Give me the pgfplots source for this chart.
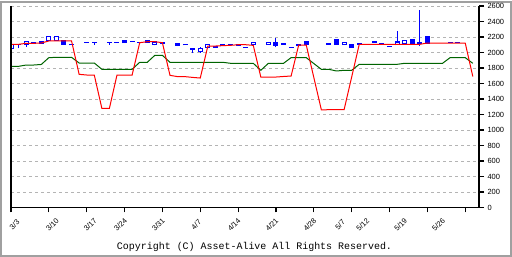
\documentclass[border=0pt]{standalone}
\usepackage{pgfplots}
\pgfplotsset{compat=1.18}
\usepackage{pgfplotstable}
\usepackage{fontspec}
\setmainfont{Liberation Sans}
\setmonofont{Liberation Mono}
\definecolor{cblue}{RGB}{0,0,255}
\definecolor{cred}{RGB}{255,0,0}
\definecolor{cgreen}{RGB}{0,100,0}
\definecolor{cgrid}{RGB}{180,180,180}
\definecolor{cframe}{RGB}{160,160,160}

\pgfplotstableread{
x bl bh wl wh
0 2053 2100 2053 2100
2 2105 2144 2075 2144
5 2157 2200 2157 2200
6 2157 2200 2157 2200
19 2105 2135 2092 2135
25 2010 2049 1997 2070
26 2066 2100 2062 2109
32 2100 2131 2100 2131
34 2100 2131 2100 2131
44 2100 2131 2100 2131
51 2100 2135 2100 2277
52 2114 2157 2114 2157
}\hollow

\pgfplotstableread{
x bl bh wl wh
4 2118 2144 2118 2144
7 2105 2157 2105 2157
15 2126 2152 2126 2165
18 2135 2148 2135 2148
22 2096 2122 2083 2122
24 2036 2057 1993 2057
28 2088 2109 2088 2109
30 2092 2105 2092 2105
35 2096 2131 2066 2183
38 2088 2109 2088 2109
39 2100 2144 2100 2144
43 2105 2161 2105 2161
45 2062 2109 2062 2109
53 2114 2170 2114 2170
54 2118 2126 2083 2548
55 2122 2200 2122 2200
}\filled

\pgfplotstableread{
x v wl wh
1 2100 2053 2100
3 2122 2122 2122
8 2100 2100 2100
10 2131 2131 2131
11 2131 2100 2131
13 2131 2100 2131
14 2131 2131 2131
16 2139 2139 2139
17 2131 2131 2131
20 2122 2122 2122
23 2100 2100 2100
27 2070 2070 2070
29 2105 2105 2105
31 2062 2062 2062
36 2109 2109 2109
37 2066 2066 2066
42 2109 2109 2109
46 2109 2109 2109
48 2135 2135 2135
49 2118 2118 2118
50 2075 2075 2075
58 2130 2130 2130
59 2130 2130 2130
}\dashes

\pgfplotstableread{
x v
0 2105
1 2105
2 2118
3 2118
4 2122
5 2148
6 2148
7 2148
8 2148
9 1718
10 1709
11 1709
12 1280
13 1280
14 1709
15 1709
16 1709
17 2126
18 2139
19 2139
20 2126
21 1705
22 1688
23 1688
24 1678
25 1670
26 2083
27 2083
28 2088
29 2092
30 2100
31 2100
32 2092
33 1683
34 1683
35 1683
36 1690
37 1696
38 2096
39 2096
40 1677
41 1258
42 1262
43 1262
44 1262
45 1683
46 2105
47 2105
48 2105
49 2105
50 2105
51 2105
52 2105
53 2105
54 2105
55 2122
56 2122
57 2122
58 2122
59 2122
60 2122
61 1690
}\redline

\pgfplotstableread{
x v
0 1821
1 1821
2 1838
3 1838
4 1845
5 1933
6 1937
7 1937
8 1937
9 1864
10 1864
11 1864
12 1783
13 1783
14 1783
15 1783
16 1783
17 1873
18 1873
19 1963
20 1963
21 1873
22 1873
23 1873
24 1873
25 1873
26 1873
27 1873
28 1873
29 1860
30 1860
31 1860
32 1860
33 1770
34 1860
35 1860
36 1860
37 1933
38 1933
39 1933
40 1857
41 1782
42 1782
43 1761
44 1770
45 1770
46 1847
47 1847
48 1847
49 1847
50 1847
51 1847
52 1860
53 1860
54 1860
55 1860
56 1860
57 1860
58 1933
59 1933
60 1933
61 1860
}\greenline

\pgfplotsset{
  candle/.style 2 args={draw=none, no markers, forget plot,
    error bars/.cd, y dir=plus, y explicit, error mark=none,
    error bar style={draw=#1, line width=#2, line cap=butt}},
}

\begin{document}
\begin{tikzpicture}[x=1bp,y=1bp]
\draw[cframe, line width=2bp, fill=white] (1,1) rectangle (511,255);
\begin{axis}[
  name=ax,
  at={(11bp,49.5bp)}, anchor=south west,
  scale only axis, width=468bp, height=201.5bp,
  xmin=0, xmax=61.82, ymin=0, ymax=2600,
  axis x line*=bottom, axis y line*=right,
  axis line style={line width=1.4bp, black},
  tick align=outside,
  major tick length=5bp,
  minor tick length=5bp,
  tick style={black, line width=1.2bp},
  xtick={0,5,10,14,19,24,29,34,39,43,46,51,56},
  xticklabels={3/3,3/10,3/17,3/24,3/31,4/7,4/14,4/21,4/28,5/7,5/12,5/19,5/26},
  major x tick style={draw=none},
  minor xtick={0,5,...,60},
  minor x tick style={black, line width=1.2bp},
  xticklabel style={font=\fontsize{7.5}{8}\selectfont, xshift=3.5bp, yshift=-12bp, rotate=45, anchor=center},
  ytick={0,200,...,2600},
  yticklabel style={font=\fontsize{7.5}{8}\selectfont, anchor=west},
  scaled y ticks=false,
  /pgf/number format/assume math mode=true,
  /pgf/number format/1000 sep={},
  ymajorgrids,
  grid style={cgrid, dash pattern=on 3bp off 3bp, line width=0.8bp},
]
% wicks
\addplot[candle={cblue}{1bp}] table[x=x, y=wl, y error expr=\thisrow{wh}-\thisrow{wl}] {\hollow};
\addplot[candle={cblue}{1bp}] table[x=x, y=wl, y error expr=\thisrow{wh}-\thisrow{wl}] {\filled};
\addplot[candle={cblue}{1bp}] table[x=x, y=wl, y error expr=\thisrow{wh}-\thisrow{wl}] {\dashes};
% bodies
\addplot[candle={cblue}{5bp}] table[x=x, y expr=\thisrow{bl}-6.5, y error expr=\thisrow{bh}-\thisrow{bl}+13] {\hollow};
\addplot[candle={cblue}{5bp}] table[x=x, y expr=\thisrow{bl}-6.5, y error expr=\thisrow{bh}-\thisrow{bl}+13] {\filled};
\addplot[candle={cblue}{5bp}] table[x=x, y expr=\thisrow{v}-7, y error expr=14] {\dashes};
\addplot[candle={white}{3bp}] table[x=x, y expr=\thisrow{bl}+6.5, y error expr=\thisrow{bh}-\thisrow{bl}-13] {\hollow};
% lines
\addplot[cgreen, line width=1bp, mark=none] table[x=x, y=v] {\greenline};
\addplot[cred, line width=1bp, mark=none] table[x=x, y=v] {\redline};
\end{axis}
\draw[black, line width=1.4bp] (ax.south west) -- (ax.north west);
\node[font=\ttfamily\fontsize{10}{12}\selectfont] at (254.5,10) {Copyright (C) Asset-Alive All Rights Reserved.};
\end{tikzpicture}
\end{document}
